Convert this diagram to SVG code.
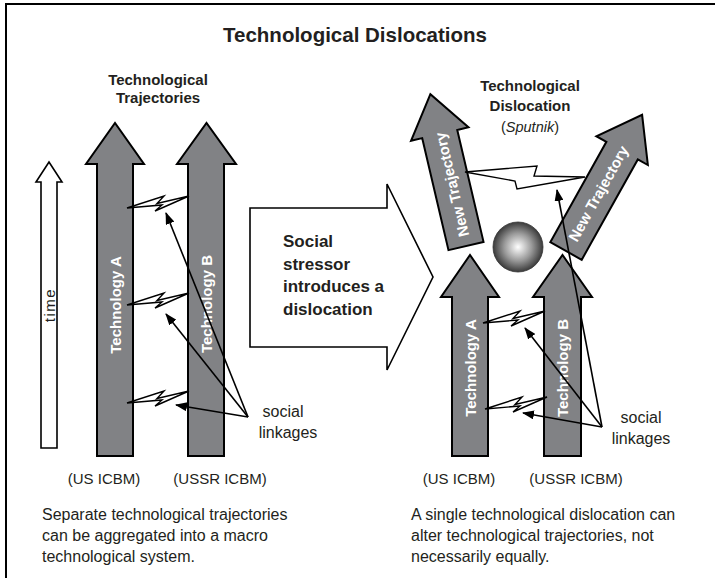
<svg xmlns="http://www.w3.org/2000/svg" width="715" height="578" viewBox="0 0 715 578">
<style>
text{font-family:"Liberation Sans",Arial,sans-serif;fill:#231f20}
.b{font-weight:bold}
.w{fill:#fff;font-weight:bold;font-size:15px}
.arr{fill:#818285;stroke:#000;stroke-width:2;stroke-linejoin:miter}
.wh{fill:#fff;stroke:#000;stroke-width:1.6}
.bolt{fill:#fff;stroke:#000;stroke-width:1.4;stroke-linejoin:miter}
.link{stroke:#000;stroke-width:1.6;fill:none;marker-end:url(#ah)}
.lbl{font-size:15px;text-anchor:middle}
.body{font-size:16px}
</style>
<defs>
<marker id="ah" markerUnits="userSpaceOnUse" markerWidth="12" markerHeight="9" refX="11" refY="4.5" orient="auto">
<path d="M0,0 L12,4.5 L0,9 Z" fill="#000"/>
</marker>
<path id="bolt" d="M0,0 L37,-12 L30,-4.5 L62,-12 L28,3 L35,-3 Z"/>
<radialGradient id="sph" cx="0.5" cy="0.5" r="0.5">
<stop offset="0" stop-color="#ffffff"/>
<stop offset="0.55" stop-color="#9a9a9a"/>
<stop offset="1" stop-color="#3a3a3a"/>
</radialGradient>
</defs>

<rect x="6" y="4" width="730" height="600" fill="#fff" stroke="#000" stroke-width="2"/>

<text x="355" y="42" class="b" font-size="20.5" text-anchor="middle">Technological Dislocations</text>

<g id="left-heading">
<text x="158" y="85" class="b" font-size="15" text-anchor="middle">Technological</text>
<text x="158" y="103" class="b" font-size="15" text-anchor="middle">Trajectories</text>
</g>

<g id="time-arrow">
<path class="wh" d="M41,448 V182 H36 L49,162 L62,182 H57 V448 Z"/>
<text transform="translate(50,305) rotate(-90)" y="5" font-size="15" letter-spacing="1.5" text-anchor="middle">time</text>
</g>

<g id="left-tech-a">
<path class="arr" d="M97,456 V164 H86 L115,123 L144,164 H133 V456 Z"/>
<text class="w" transform="translate(115,305) rotate(-90)" y="5.5" text-anchor="middle">Technology A</text>
</g>
<g id="left-tech-b">
<path class="arr" d="M188,456 V164 H177 L206.5,123 L236,164 H224 V456 Z"/>
<text class="w" transform="translate(206,304) rotate(-90)" y="5.5" text-anchor="middle">Technology B</text>
</g>

<g id="left-bolts">
<use href="#bolt" class="bolt" transform="translate(127,208)"/>
<use href="#bolt" class="bolt" transform="translate(127,305)"/>
<use href="#bolt" class="bolt" transform="translate(127,403)"/>
</g>

<g id="stressor">
<polygon class="wh" points="250,208 387,208 387,184 433,277 387,370 387,347 250,347"/>
<text x="283" y="247" class="b" font-size="17">Social</text>
<text x="283" y="270" class="b" font-size="17">stressor</text>
<text x="283" y="292" class="b" font-size="17">introduces a</text>
<text x="283" y="315" class="b" font-size="17">dislocation</text>
</g>

<g id="right-heading">
<text x="530" y="91" class="b" font-size="15" text-anchor="middle">Technological</text>
<text x="530" y="111" class="b" font-size="15" text-anchor="middle">Dislocation</text>
<text x="530" y="132" font-size="14.5" text-anchor="middle">(<tspan font-style="italic">Sputnik</tspan>)</text>
</g>

<g id="new-traj-left" transform="translate(466,246) rotate(-13.2)">
<path class="arr" d="M-18,0 V-115 H-29.5 L0,-156 L29.5,-115 H18 V0 Z"/>
<text class="w" transform="translate(0,-63) rotate(-90)" y="5.5" text-anchor="middle">New Trajectory</text>
</g>
<g id="new-traj-right" transform="translate(566,251) rotate(29.2)">
<path class="arr" d="M-18,0 V-115 H-29.5 L0,-156 L29.5,-115 H18 V0 Z"/>
<text class="w" transform="translate(0,-66) rotate(-90)" y="5.5" text-anchor="middle">New Trajectory</text>
</g>

<g id="sphere">
<circle cx="518" cy="247" r="25" fill="url(#sph)" stroke="#333" stroke-width="0.8"/>
</g>

<g id="right-tech-a">
<path class="arr" d="M452,456 V297 H441 L470,255 L499,297 H488 V456 Z"/>
<text class="w" transform="translate(470,368) rotate(-90)" y="5.5" text-anchor="middle">Technology A</text>
</g>
<g id="right-tech-b">
<path class="arr" d="M544,456 V297 H533 L562.5,255 L592,297 H581 V456 Z"/>
<text class="w" transform="translate(562.5,368) rotate(-90)" y="5.5" text-anchor="middle">Technology B</text>
</g>

<g id="right-bolts">
<polygon class="bolt" points="465,172 537,166 534,176 585,177 517,189 515,181"/>
<use href="#bolt" class="bolt" transform="translate(483,323)"/>
<use href="#bolt" class="bolt" transform="translate(485,409)"/>
</g>

<g id="connectors">
<line class="link" x1="248" y1="417" x2="166" y2="213"/>
<line class="link" x1="248" y1="417" x2="166" y2="314"/>
<line class="link" x1="248" y1="417" x2="176" y2="405"/>
<line class="link" x1="602" y1="427" x2="557" y2="190"/>
<line class="link" x1="602" y1="427" x2="525" y2="328"/>
<line class="link" x1="602" y1="427" x2="523" y2="413"/>
</g>

<g id="labels">
<text x="283" y="417" font-size="16" text-anchor="middle">social</text>
<text x="288" y="438" font-size="16" text-anchor="middle">linkages</text>
<text x="641" y="423" font-size="16" text-anchor="middle">social</text>
<text x="641" y="444" font-size="16" text-anchor="middle">linkages</text>
<text x="104" y="484" class="lbl">(US ICBM)</text>
<text x="220" y="484" class="lbl">(USSR ICBM)</text>
<text x="459" y="484" class="lbl">(US ICBM)</text>
<text x="576" y="484" class="lbl">(USSR ICBM)</text>
</g>

<g id="captions">
<text x="42" y="520" class="body">Separate technological trajectories</text>
<text x="42" y="541" class="body">can be aggregated into a macro</text>
<text x="42" y="562" class="body">technological system.</text>
<text x="411" y="520" class="body">A single technological dislocation can</text>
<text x="411" y="541" class="body">alter technological trajectories, not</text>
<text x="411" y="562" class="body">necessarily equally.</text>
</g>
</svg>
